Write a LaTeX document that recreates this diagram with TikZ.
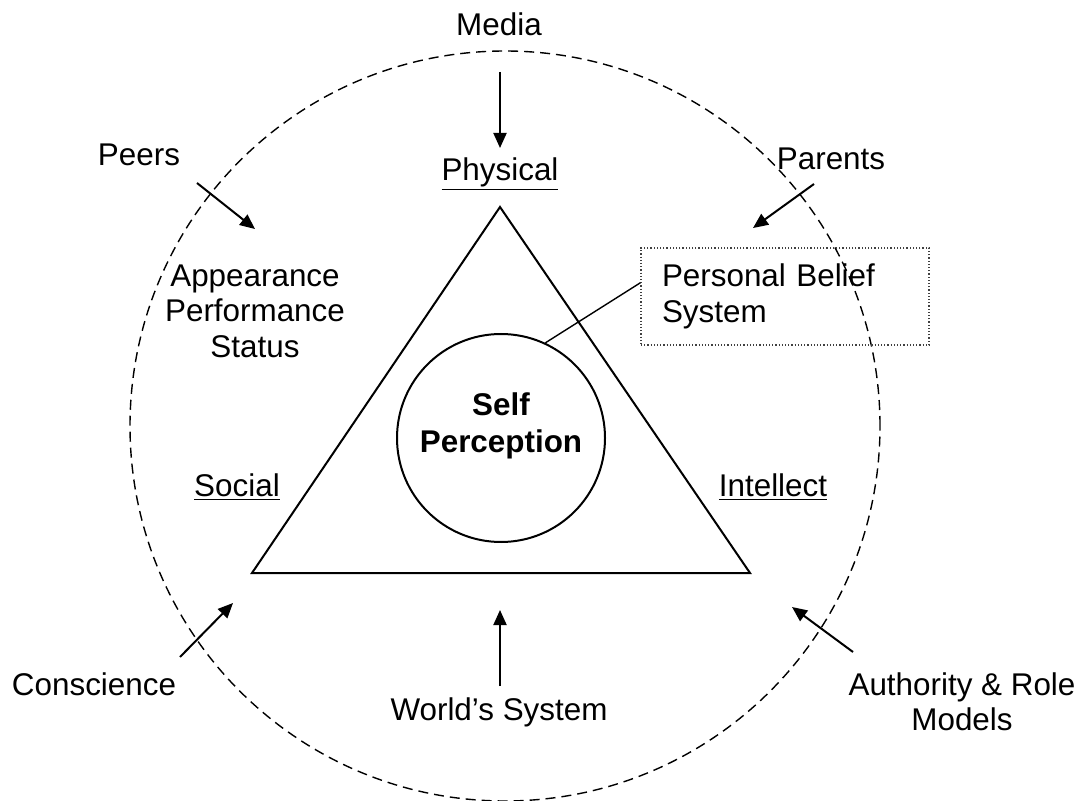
\documentclass[tikz,border=0pt]{standalone}
\usepackage{fontspec}
\setmainfont{Liberation Sans}
\usetikzlibrary{arrows.meta,calc}
\begin{document}
\begin{tikzpicture}[x=0.5pt,y=-0.5pt,
  lbl/.style={font=\fontsize{15.7pt}{17.7pt}\selectfont, inner sep=0pt, align=center},
  infl/.style={line width=1pt, -{Triangle[length=7.5pt,width=6.5pt]}},
  edge/.style={line width=1pt},
  ring/.style={line width=0.7pt, dash pattern=on 5pt off 3pt}]
\useasboundingbox (0,0) rectangle (1081,801);
% outer dashed circle
\draw[ring] (505,426) circle [radius=187.5pt];
% triangle
\coordinate (apex) at (500,207);
\coordinate (bl) at (252,573);
\coordinate (br) at (750,573);
\draw[edge, line join=miter] (apex) -- (bl) -- (br) -- cycle;
% self circle
\node[draw, circle, line width=1pt, minimum size=104pt, inner sep=0pt] (self) at (501,438) {};
\node[lbl, font=\fontsize{15.7pt}{18.5pt}\selectfont\bfseries] (selftext) at (501,426) {Self\\Perception};
% belief box
\node[draw=black!75, line width=0.6pt, densely dotted, minimum width=144pt, minimum height=48.5pt,
      text width=123pt, inner xsep=10.5pt, align=left, font=\fontsize{15.7pt}{17.8pt}\selectfont] (box) at (785,296.5) {Personal Belief\\System};
\draw[line width=0.7pt] (self.65) -- ($(box.north west)!0.36!(box.south west)$);
% labels
\node[lbl] (media) at (499,24) {Media};
\node[lbl] (physical) at (500,174) {\underline{Physical}};
\node[lbl] (peers) at (139,155) {Peers};
\node[lbl] (parents) at (831,159) {Parents};
\node[lbl] (aps) at (255,311) {Appearance\\Performance\\Status};
\node[lbl] (social) at (237,487) {\underline{Social}};
\node[lbl] (intellect) at (773,487) {\underline{Intellect}};
\node[lbl] (conscience) at (94,684) {Conscience};
\node[lbl] (world) at (499,712) {World’s System};
\node[lbl] (authority) at (962,702) {Authority \& Role\\Models};
% arrows
\coordinate (m1) at (500,72);  \coordinate (m2) at (500,148);
\coordinate (p1) at (197,183); \coordinate (p2) at (255,229);
\coordinate (q1) at (814,184); \coordinate (q2) at (753,228);
\coordinate (c1) at (180,657); \coordinate (c2) at (233,603);
\coordinate (w1) at (500,686); \coordinate (w2) at (500,610);
\coordinate (a1) at (853,652); \coordinate (a2) at (792,607);
\draw[infl] (m1) -- (m2);
\draw[infl] (p1) -- (p2);
\draw[infl] (q1) -- (q2);
\draw[infl] (c1) -- (c2);
\draw[infl] (w1) -- (w2);
\draw[infl] (a1) -- (a2);
\end{tikzpicture}
\end{document}
